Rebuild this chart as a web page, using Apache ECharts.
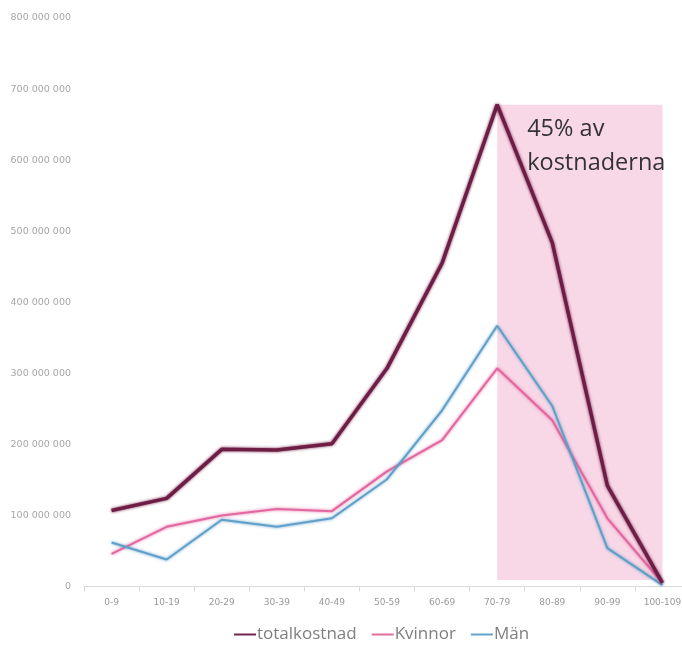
<!DOCTYPE html>
<html>
<head>
<meta charset="utf-8">
<script src="https://cdn.jsdelivr.net/npm/echarts@6/dist/echarts.min.js"></script>
<style>
  html, body { margin: 0; padding: 0; background: #ffffff; }
  #chart { width: 682px; height: 648px; }
</style>
</head>
<body>
<div id="chart"></div>
<script>
// Age groups and cost per group (SEK)
const ageGroups = ['0-9', '10-19', '20-29', '30-39', '40-49', '50-59', '60-69', '70-79', '80-89', '90-99', '100-109'];
const totalkostnad = [107e6, 124e6, 193e6, 192e6, 201e6, 307e6, 455e6, 678e6, 484e6, 142e6, 5e6];
const kvinnor = [46e6, 84e6, 100e6, 109e6, 106e6, 162e6, 206e6, 307e6, 234e6, 96e6, 5e6];
const man = [62e6, 38e6, 94e6, 84e6, 96e6, 151e6, 248e6, 367e6, 254e6, 54e6, 2e6];

// Highlighted span: the oldest age groups
const highlightFrom = '70-79';
const highlightTo = '100-109';
const highlightBottom = 9e6;
const highlightText = '45% av\nkostnaderna';

const yTicks = { min: 0, max: 800e6, interval: 100e6 };

function spaced(v) {
  return String(Math.round(v)).replace(/\B(?=(\d{3})+(?!\d))/g, ' ');
}

const chart = echarts.init(document.getElementById('chart'), null, { renderer: 'canvas' });

const lineSeries = (name, data, color, width) => ({
  name: name,
  type: 'line',
  data: data,
  symbol: 'none',
  smooth: false,
  lineStyle: { color: color, width: width, shadowColor: color, shadowBlur: 3, opacity: 0.95 },
  itemStyle: { color: color },
  emphasis: { disabled: true }
});

const totalSeries = lineSeries('totalkostnad', totalkostnad, '#6b1a42', 3.5);
totalSeries.z = 4;
totalSeries.markArea = {
  silent: true,
  itemStyle: { color: '#f8d7e7' },
  label: {
    show: true,
    position: 'insideTopLeft',
    distance: 0,
    offset: [30, 8],
    color: '#333333',
    fontFamily: 'Open Sans',
    fontSize: 23.5,
    lineHeight: 34
  },
  data: [[
    { name: highlightText, xAxis: highlightFrom, yAxis: totalkostnad[ageGroups.indexOf(highlightFrom)] },
    { xAxis: highlightTo, yAxis: highlightBottom }
  ]]
};

const kvSeries = lineSeries('Kvinnor', kvinnor, '#e2649c', 2);
kvSeries.z = 3;
const manSeries = lineSeries('Män', man, '#5d9dc6', 2);
manSeries.z = 3;

chart.setOption({
  animation: false,
  backgroundColor: '#ffffff',
  grid: { left: 84, width: 606, top: 18, height: 568.5, outerBoundsMode: 'none', containLabel: false },
  legend: {
    bottom: 0,
    left: 228,
    itemWidth: 22,
    itemHeight: 10,
    itemGap: 14,
    itemStyle: { opacity: 0 },
    textStyle: { color: '#7f7f7f', fontSize: 17, fontFamily: 'Open Sans', padding: [0, 0, 0, -4] },
    data: ['totalkostnad', 'Kvinnor', 'Män']
  },
  xAxis: {
    type: 'category',
    data: ageGroups,
    boundaryGap: true,
    axisLine: { show: true, lineStyle: { color: '#d9d9d9', width: 1 } },
    axisTick: { show: true, alignWithLabel: false, length: 5, lineStyle: { color: '#d9d9d9' } },
    axisLabel: { color: '#999999', fontSize: 9, fontFamily: 'DejaVu Sans', margin: 12, interval: 0 },
    splitLine: { show: false }
  },
  yAxis: {
    type: 'value',
    min: yTicks.min,
    max: yTicks.max,
    interval: yTicks.interval,
    axisLine: { show: false },
    axisTick: { show: false },
    splitLine: { show: false },
    axisLabel: {
      color: '#a6a6a6',
      fontSize: 9.5,
      fontFamily: 'DejaVu Sans',
      margin: 13,
      formatter: spaced
    }
  },
  series: [totalSeries, kvSeries, manSeries]
});
</script>
</body>
</html>
